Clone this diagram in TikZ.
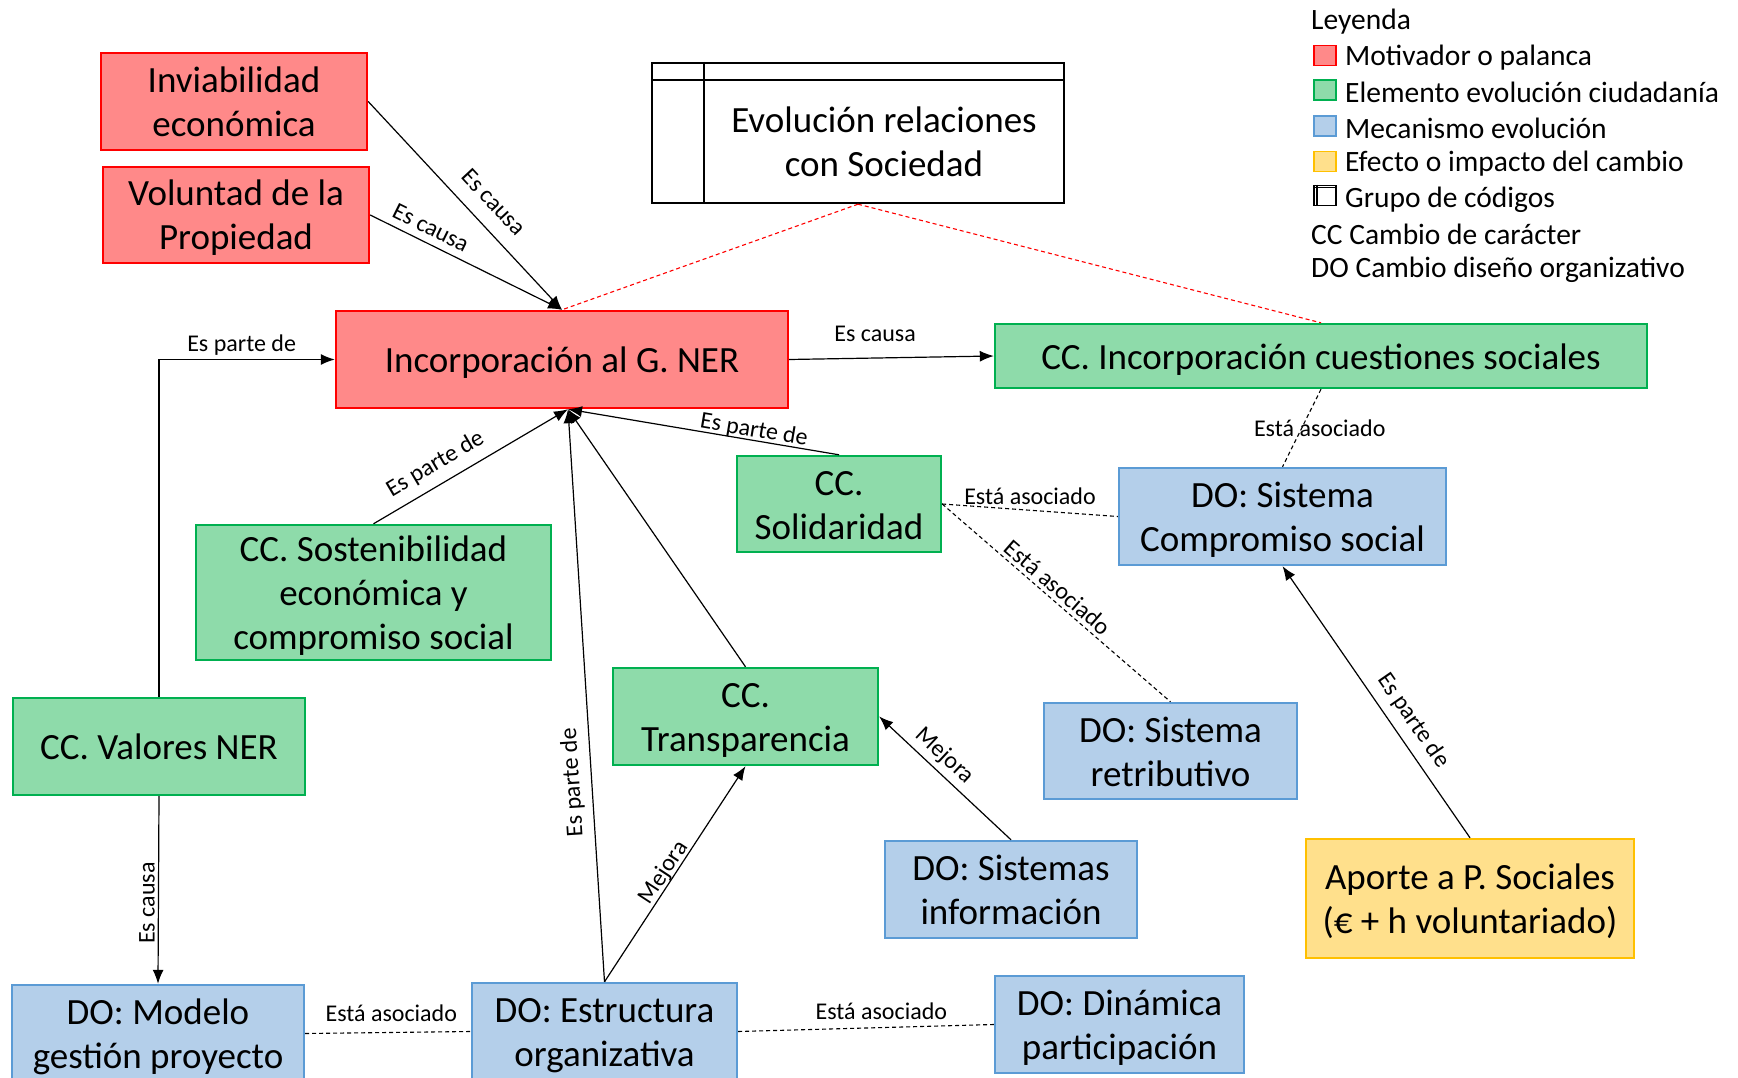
\documentclass[tikz,border=0pt]{standalone}
\usepackage{fontspec}
\setmainfont{Carlito}
\usetikzlibrary{arrows.meta}

\definecolor{redfill}{RGB}{255,137,137}
\definecolor{redline}{RGB}{255,0,0}
\definecolor{greenfill}{RGB}{142,219,170}
\definecolor{greenline}{RGB}{0,176,80}
\definecolor{bluefill}{RGB}{180,207,234}
\definecolor{blueline}{RGB}{91,155,213}
\definecolor{yellowfill}{RGB}{255,224,140}
\definecolor{yellowline}{RGB}{255,192,0}

\tikzset{
  box/.style={rectangle, line width=2.4pt, inner sep=0pt, align=center,
              font=\fontsize{37}{44}\selectfont, text depth=9pt},
  % fixed line metrics, so that every box centres its lines alike
  l1/.style={text height=35pt},
  l2/.style={text height=79pt},
  l3/.style={text height=123pt},
  motivator/.style={box, draw=redline, fill=redfill},
  citizen/.style={box, draw=greenline, fill=greenfill},
  mechanism/.style={box, draw=blueline, fill=bluefill},
  effect/.style={box, draw=yellowline, fill=yellowfill},
  rel/.style={line width=1.2pt, -{Latex[length=14pt,width=11pt]}},
  assoc/.style={line width=1.1pt, dash pattern=on 4pt off 3pt},
  grouplink/.style={line width=1.1pt, draw=redline, dash pattern=on 4pt off 3pt},
  lbl/.style={font=\fontsize{24}{28}\selectfont, inner sep=3pt},
  legtext/.style={font=\fontsize{29.5}{34}\selectfont, anchor=west, inner sep=0pt},
  legsq/.style={rectangle, line width=1.6pt, minimum width=22pt, minimum height=20pt, inner sep=0pt},
}

\begin{document}
\begin{tikzpicture}[x=1pt, y=-1pt]
\clip (0,0) rectangle (1738,1078);
\fill[white] (0,0) rectangle (1738,1078);

% ---- motivators ----
\node[motivator, l2, minimum width=266pt, minimum height=97pt] (inv) at (234,101.5) {Inviabilidad\\económica};
\node[motivator, l2, minimum width=266pt, minimum height=96pt] (vol) at (236,215) {Voluntad de la\\Propiedad};
\node[motivator, l1, minimum width=452pt, minimum height=97pt] (inc) at (562,359.5) {Incorporación al G. NER};

% ---- code group ----
\node[rectangle, draw, line width=2.4pt, minimum width=412pt, minimum height=140pt, inner sep=0pt] (grp) at (858,133) {};
\draw[line width=2.4pt] (grp.north west |- 0,80) -- (grp.north east |- 0,80);
\draw[line width=2.4pt] (704,0 |- grp.north) -- (704,0 |- grp.south);
\node[align=center, font=\fontsize{37}{44}\selectfont] (grptext) at (884,142) {Evolución relaciones\\con Sociedad};

% ---- citizenship elements ----
\node[citizen, l1, minimum width=652pt, minimum height=64pt] (ccq) at (1321,356) {CC. Incorporación cuestiones sociales};
\node[citizen, l2, minimum width=204pt, minimum height=96pt] (sol) at (839,504) {CC.\\Solidaridad};
\node[citizen, l3, minimum width=355pt, minimum height=135pt] (sost) at (373.5,592.5) {CC. Sostenibilidad\\económica y\\compromiso social};
\node[citizen, l1, minimum width=292pt, minimum height=97pt] (val) at (159,746.5) {CC. Valores NER};
\node[citizen, l2, minimum width=265pt, minimum height=97pt] (tra) at (745.5,716.5) {CC.\\Transparencia};

% ---- mechanisms ----
\node[mechanism, l2, minimum width=327pt, minimum height=97pt] (dosc) at (1282.5,516.5) {DO: Sistema\\Compromiso social};
\node[mechanism, l2, minimum width=253pt, minimum height=96pt] (ret) at (1170.5,751) {DO: Sistema\\retributivo};
\node[mechanism, l2, minimum width=252pt, minimum height=97pt] (inf) at (1011,889.5) {DO: Sistemas\\información};
\node[mechanism, l2, minimum width=292pt, minimum height=97pt] (mod) at (158,1033.5) {DO: Modelo\\gestión proyecto};
\node[mechanism, l2, minimum width=265pt, minimum height=97pt] (est) at (604.5,1031.5) {DO: Estructura\\organizativa};
\node[mechanism, l2, minimum width=249pt, minimum height=97pt] (din) at (1119.5,1024.5) {DO: Dinámica\\participación};

% ---- effect ----
\node[effect, l2, minimum width=328pt, minimum height=119pt] (apo) at (1470,898.5) {Aporte a P. Sociales\\(€ + h voluntariado)};

% ---- meeting point under the central node ----
\coordinate (incS) at ([xshift=6pt]inc.south);

% ---- group links ----
\draw[grouplink] (grp.south) -- (inc.north);
\draw[grouplink] (grp.south) -- (ccq.north);

% ---- relations ----
\draw[rel] (inv.east) -- node[pos=0.56, sloped, above=12pt, lbl] {Es causa} (inc.north);
\draw[rel] (vol.east) -- node[pos=0.28, sloped, above=4pt, lbl] {Es causa} (inc.north);
\draw[rel] (inc.east) -- node[pos=0.42, above=13pt, lbl] {Es causa} (ccq.west);
\draw[rel] (val.north) |- node[pos=0.735, above=1pt, lbl] {Es parte de} (inc.west);
\draw[rel] (val.south) -- node[pos=0.57, rotate=90, anchor=south, lbl] {Es causa} (mod.north);
\draw[rel] (sost.north) -- node[pos=0.37, sloped, above=6pt, lbl] {Es parte de} (incS);
\draw[rel] (sol.north) -- node[pos=0.32, sloped, above=-4pt, lbl] {Es parte de} (incS);
\draw[rel] (tra.north) -- (incS);
\draw[rel] (est.north) -- node[pos=0.35, sloped, allow upside down, above=5pt, lbl] {Es parte de} (incS);
\draw[rel] (est.north) -- node[pos=0.48, sloped, above=-4pt, lbl] {Mejora} (tra.south);
\draw[rel] (inf.north) -- node[pos=0.585, sloped, above=2pt, lbl] {Mejora} (tra.east);
\draw[rel] (apo.north) -- node[pos=0.39, sloped, above=6pt, lbl] {Es parte de} (dosc.south);

% ---- associations ----
\draw[assoc] (sol.east) -- node[pos=0.5, above=2pt, lbl] {Está asociado} (dosc.west);
\draw[assoc] (sol.east) -- node[pos=0.47, sloped, above=1pt, lbl] {Está asociado} (ret.north);
\draw[assoc] (ccq.south) -- node[pos=0.5, xshift=18pt, lbl] {Está asociado} (dosc.north);
\draw[assoc] (mod.east) -- node[pos=0.52, above=7pt, lbl] {Está asociado} (est.west);
\draw[assoc] (est.east) -- node[pos=0.56, above=4pt, lbl] {Está asociado} (din.west);

% ---- legend ----
\node[legtext] (lg0) at (1311,21.5) {Leyenda};
\node[legsq, draw=redline, fill=redfill, anchor=west] (sq1) at (1313,55.5) {};
\node[legtext] (lg1) at (1345,57.5) {Motivador o palanca};
\node[legsq, draw=greenline, fill=greenfill, anchor=west] (sq2) at (1313,90) {};
\node[legtext] (lg2) at (1345,92) {Elemento evolución ciudadanía};
\node[legsq, draw=blueline, fill=bluefill, anchor=west] (sq3) at (1313,126) {};
\node[legtext] (lg3) at (1345,128) {Mecanismo evolución};
\node[legsq, draw=yellowline, fill=yellowfill, anchor=west] (sq4) at (1313,161.5) {};
\node[legtext] (lg4) at (1345,164) {Efecto o impacto del cambio};
\node[legsq, draw=black, fill=white, anchor=west] (sq5) at (1313,195.5) {};
\draw[line width=1.4pt] ([xshift=4pt]sq5.north west) -- ([xshift=4pt]sq5.south west);
\draw[line width=1.4pt] ([yshift=-3pt]sq5.north west) -- ([yshift=-3pt]sq5.north east);
\node[legtext] (lg5) at (1345,199.5) {Grupo de códigos};
\node[legtext] (lg6) at (1311,234.5) {CC Cambio de carácter};
\node[legtext] (lg7) at (1311,270) {DO Cambio diseño organizativo};
\end{tikzpicture}
\end{document}
